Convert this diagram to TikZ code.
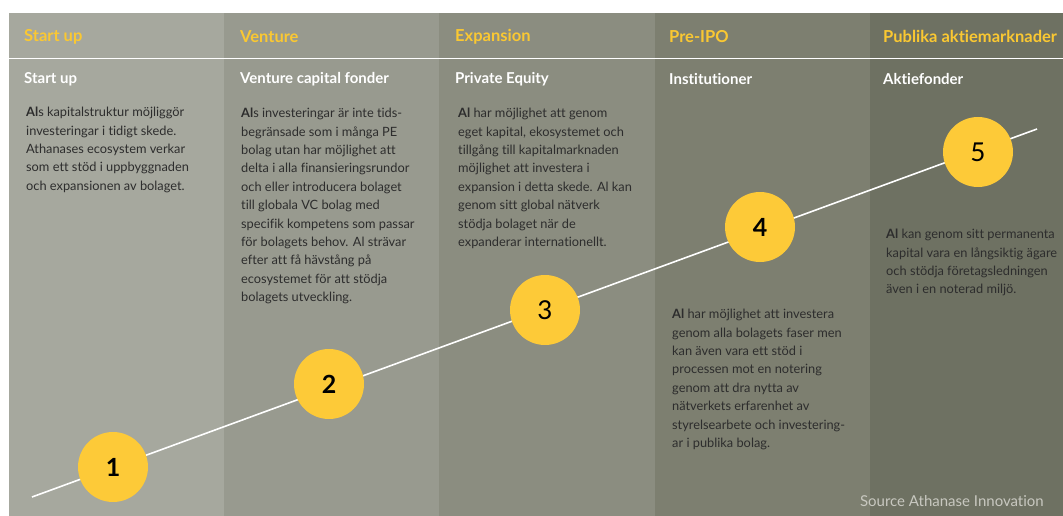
\documentclass[tikz,border=0pt]{standalone}
\usepackage{fontspec}
\setmainfont[Ligatures=NoCommon]{Lato}
\definecolor{colA}{RGB}{166,168,158}
\definecolor{colB}{RGB}{152,154,143}
\definecolor{colC}{RGB}{139,141,128}
\definecolor{colD}{RGB}{125,127,112}
\definecolor{colE}{RGB}{110,113,98}
\definecolor{hdryellow}{RGB}{250,200,50}
\definecolor{circyellow}{RGB}{253,202,56}
\definecolor{bodytext}{RGB}{45,45,45}
\definecolor{srctext}{RGB}{200,200,192}
\tikzset{
  phase/.style={font=\bfseries\fontsize{16.5}{18}\selectfont, text=hdryellow, anchor=west, inner sep=0},
  investor/.style={font=\bfseries\fontsize{15}{16}\selectfont, text=white, anchor=west, inner sep=0},
  body/.style={font=\fontsize{12.8}{18.4}\selectfont, text=bodytext, align=left, anchor=north west, inner sep=0},
  stepcirc/.style={circle, fill=circyellow, minimum size=70pt, inner sep=0, text=black, font=\bfseries\fontsize{25}{25}\selectfont},
  stepcircl/.style={stepcirc, font=\fontsize{26}{26}\selectfont},
  growth/.style={white, line width=1.6pt}
}
\newcommand{\st}{\rule{0pt}{10pt}}
\begin{document}
\begin{tikzpicture}[x=1pt,y=-1pt]
\useasboundingbox (0,0) rectangle (1063,516);
\fill[white] (0,0) rectangle (1063,516);
% columns
\fill[colA] (9,13) rectangle (224,516);
\fill[colB] (224,13) rectangle (439,516);
\fill[colC] (439,13) rectangle (655,516);
\fill[colD] (655,13) rectangle (870,516);
\fill[colE] (870,13) rectangle (1063,516);
\draw[white, line width=1.5pt] (9,58.5) -- (1063,58.5);
% headers
\node[phase] (h1) at (24,36.5) {Start up};
\node[phase] (h2) at (240,36.5) {Venture};
\node[phase] (h3) at (455,36.5) {Expansion};
\node[phase] (h4) at (669,36.5) {Pre-IPO};
\node[phase] (h5) at (883,36.5) {Publika aktiemarknader};
\node[investor] (s1) at (24,79) {Start up};
\node[investor] (s2) at (240,79) {Venture capital fonder};
\node[investor] (s3) at (455,79) {Private Equity};
\node[investor] (s4) at (669,79) {Institutioner};
\node[investor] (s5) at (883,79) {Aktiefonder};
% body texts
\node[body] (t1) at (26,106.5) {\st\textbf{Al}s kapitalstruktur möjliggör\\investeringar i tidigt skede.\\Athanases ecosystem verkar\\som ett stöd i uppbyggnaden\\och expansionen av bolaget.};
\node[body] (t2) at (241,107.5) {\st\textbf{Al}s investeringar är inte tids-\\begränsade som i många PE\\bolag utan har möjlighet att\\delta i alla finansieringsrundor\\och eller introducera bolaget\\till globala VC bolag med\\specifik kompetens som passar\\för bolagets behov. Al strävar\\efter att få hävstång på\\ecosystemet för att stödja\\bolagets utveckling.};
\node[body] (t3) at (458,107.5) {\st\textbf{Al} har möjlighet att genom\\eget kapital, ekosystemet och\\tillgång till kapitalmarknaden\\möjlighet att investera i\\expansion i detta skede. Al kan\\genom sitt global nätverk\\stödja bolaget när de\\expanderar internationellt.};
\node[body] (t4) at (672,308.5) {\st\textbf{Al} har möjlighet att investera\\genom alla bolagets faser men\\kan även vara ett stöd i\\processen mot en notering\\genom att dra nytta av\\nätverkets erfarenhet av\\styrelsearbete och investering-\\ar i publika bolag.};
\node[body] (t5) at (886,228.5) {\st\textbf{Al} kan genom sitt permanenta\\kapital vara en långsiktig ägare\\och stödja företagsledningen\\även i en noterad miljö.};
% growth line
\coordinate (ls) at (32,497);
\coordinate (le) at (1037,129);
\draw[growth] (ls) -- (le);
% steps
\node[stepcirc] (c1) at (113,467) {1};
\node[stepcirc] (c2) at (329,384) {2};
\node[stepcircl] (c3) at (545,310) {3};
\node[stepcirc] (c4) at (760,227) {4};
\node[stepcircl] (c5) at (978,152) {5};
% source
\node[font=\fontsize{15}{16}\selectfont, text=srctext, anchor=east, inner sep=0] (src) at (1044,501) {Source Athanase Innovation};
\end{tikzpicture}
\end{document}
